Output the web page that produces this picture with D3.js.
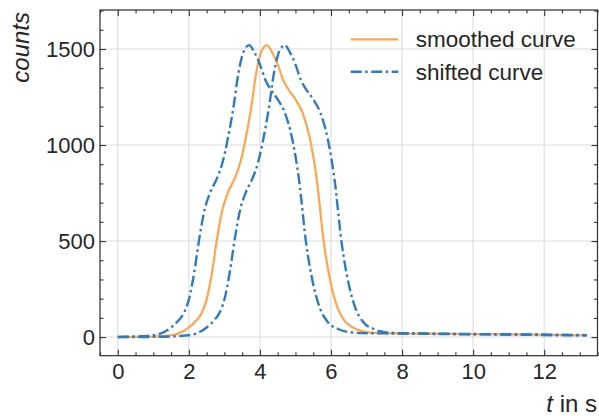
<!DOCTYPE html>
<html>
<head>
<meta charset="utf-8">
<script src="https://cdn.jsdelivr.net/npm/d3@7"></script>
<style>
  html, body { margin: 0; padding: 0; background: #fff; }
  svg { display: block; font-family: "Liberation Sans", Arial, sans-serif; }
</style>
</head>
<body>
<svg id="chart" width="599" height="416"></svg>
<script>
// Measured pulse: time (s) and counts of the smoothed curve
const times  = [0, 0.5, 1.0, 1.4, 1.7, 2.0, 2.2, 2.35, 2.5, 2.65, 2.8, 2.95, 3.1, 3.3, 3.45, 3.6, 3.75, 3.9, 4.05, 4.2,
                4.35, 4.5, 4.65, 4.8, 5.0, 5.2, 5.4, 5.6, 5.8, 6.0, 6.2, 6.4, 6.7, 7.0, 7.5, 8, 9, 10, 11, 12, 13.2];
const counts = [0, 1, 3, 8, 18, 50, 85, 122, 195, 335, 520, 668, 752, 830, 910, 1035, 1190, 1380, 1490, 1520,
                1480, 1420, 1340, 1290, 1238, 1168, 1040, 820, 490, 275, 145, 80, 42, 26, 20, 19, 17, 15, 14, 12, 9];
// Time offset (s) of the two shifted copies
const shifts = [-0.5, 0.5];
const xTicks = [0, 2, 4, 6, 8, 10, 12];
const yTicks = [0, 500, 1000, 1500];
const legendLabels = ["smoothed curve", "shifted curve"];

const plotLeft = 100, plotRight = 597.5, plotTop = 10, plotBottom = 355.7;
const orange = "#ffa54f", blue = "#2f7bbf";

const svg = d3.select("#chart");
const x = d3.scaleLinear().domain([-0.5, 13.5]).range([plotLeft, plotRight]);
const y = d3.scaleLinear().domain([-97, 1703]).range([plotBottom, plotTop]);

// grid
const grid = svg.append("g").attr("stroke", "#dcdcdc").attr("stroke-width", 1.1);
grid.selectAll("line.gx").data(xTicks).join("line").attr("class", "gx")
  .attr("x1", d => x(d)).attr("x2", d => x(d)).attr("y1", plotTop).attr("y2", plotBottom);
grid.selectAll("line.gy").data(yTicks).join("line").attr("class", "gy")
  .attr("y1", d => y(d)).attr("y2", d => y(d)).attr("x1", plotLeft).attr("x2", plotRight);

// curves
const base = times.map((t, i) => ({ t, v: counts[i] }));
const tMin = times[0], tMax = times[times.length - 1];
const lookup = d3.scaleLinear().domain(times).range(counts).clamp(true);
function shifted(s) {
  const pts = base.map(p => ({ t: p.t + s, v: p.v }))
    .filter(p => p.t >= tMin && p.t <= tMax);
  if (pts[0].t > tMin) pts.unshift({ t: tMin, v: lookup(tMin - s) });
  if (pts[pts.length - 1].t < tMax) pts.push({ t: tMax, v: lookup(tMax - s) });
  return pts;
}
const line = d3.line().x(d => x(d.t)).y(d => y(d.v)).curve(d3.curveMonotoneX);

const plot = svg.append("g");
plot.append("path").datum(base).attr("d", line)
  .attr("fill", "none").attr("stroke", orange).attr("stroke-width", 2.2);
const dash = "11,3.5,2.5,3.5";
shifts.forEach(s => {
  plot.append("path").datum(shifted(s)).attr("d", line)
    .attr("fill", "none").attr("stroke", blue).attr("stroke-width", 2.4)
    .attr("stroke-dasharray", dash);
});

// axes with inward ticks on all four sides
const axisColor = "#333";
const minorX = d3.range(-0.5, 13.51, 0.5).filter(v => !xTicks.includes(v));
const minorY = d3.range(0, 1701, 100).filter(v => !yTicks.includes(v));

function styleAxis(g) {
  g.select(".domain").remove();
  g.selectAll("line").attr("stroke", axisColor).attr("stroke-width", 1.1);
  g.selectAll("text").attr("fill", "#262626").attr("font-size", 22)
    .attr("font-family", "Liberation Sans, Arial, sans-serif");
}
svg.append("g").attr("transform", `translate(0,${plotBottom})`)
  .call(d3.axisBottom(x).tickValues(xTicks).tickSize(-6).tickPadding(8).tickFormat(d3.format("d")))
  .call(styleAxis);
svg.append("g").attr("transform", `translate(0,${plotBottom})`)
  .call(d3.axisBottom(x).tickValues(minorX).tickSize(-3.5).tickFormat(""))
  .call(styleAxis);
svg.append("g").attr("transform", `translate(0,${plotTop})`)
  .call(d3.axisTop(x).tickValues(xTicks).tickSize(-6).tickFormat(""))
  .call(styleAxis);
svg.append("g").attr("transform", `translate(0,${plotTop})`)
  .call(d3.axisTop(x).tickValues(minorX).tickSize(-3.5).tickFormat(""))
  .call(styleAxis);
svg.append("g").attr("transform", `translate(${plotLeft},0)`)
  .call(d3.axisLeft(y).tickValues(yTicks).tickSize(-6).tickPadding(5).tickFormat(d3.format("d")))
  .call(styleAxis);
svg.append("g").attr("transform", `translate(${plotLeft},0)`)
  .call(d3.axisLeft(y).tickValues(minorY).tickSize(-3.5).tickFormat(""))
  .call(styleAxis);
svg.append("g").attr("transform", `translate(${plotRight},0)`)
  .call(d3.axisRight(y).tickValues(yTicks).tickSize(-6).tickFormat(""))
  .call(styleAxis);
svg.append("g").attr("transform", `translate(${plotRight},0)`)
  .call(d3.axisRight(y).tickValues(minorY).tickSize(-3.5).tickFormat(""))
  .call(styleAxis);

// frame
svg.append("rect").attr("x", plotLeft).attr("y", plotTop)
  .attr("width", plotRight - plotLeft).attr("height", plotBottom - plotTop)
  .attr("fill", "none").attr("stroke", axisColor).attr("stroke-width", 1.25);

// axis labels
svg.append("text")
  .attr("transform", `translate(29,${plotTop + 2}) rotate(-90)`)
  .attr("text-anchor", "end").attr("font-size", 24).attr("font-style", "italic")
  .attr("fill", "#262626").text("counts");
const xl = svg.append("text").attr("x", 597).attr("y", 412)
  .attr("text-anchor", "end").attr("font-size", 24).attr("fill", "#262626");
xl.append("tspan").attr("font-style", "italic").text("t");
xl.append("tspan").text(" in s");

// legend
const legend = svg.append("g");
const legendRows = [
  { label: legendLabels[0], color: orange, dash: null, width: 2.2, y: 39.3 },
  { label: legendLabels[1], color: blue, dash: dash, width: 2.4, y: 71.7 }
];
legendRows.forEach(r => {
  legend.append("line").attr("x1", 350.7).attr("x2", 398.3).attr("y1", r.y).attr("y2", r.y)
    .attr("stroke", r.color).attr("stroke-width", r.width)
    .attr("stroke-dasharray", r.dash);
  legend.append("text").attr("x", 415.7).attr("y", r.y + 8)
    .attr("font-size", 22.5).attr("fill", "#262626").text(r.label);
});
</script>
</body>
</html>
